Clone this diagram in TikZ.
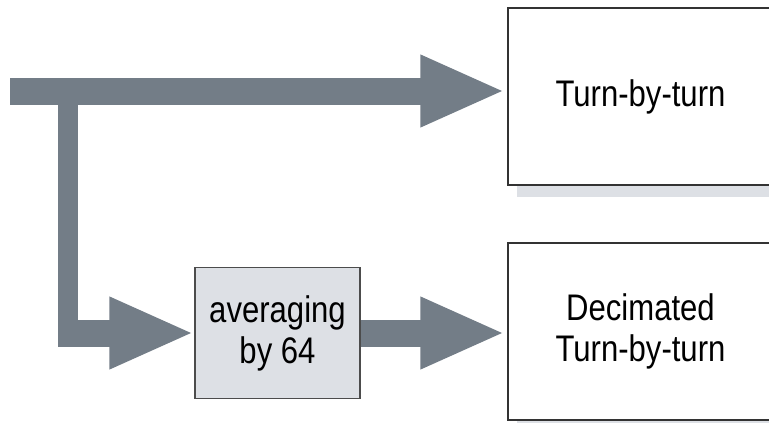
\documentclass[tikz,border=0pt]{standalone}
\usepackage{fontspec}
\setmainfont{Liberation Sans}[FakeStretch=0.84]
\usepackage{tikz}
\usetikzlibrary{arrows.meta, shadows, calc}
\definecolor{arrowgray}{RGB}{115,125,135}
\definecolor{boxgray}{RGB}{221,224,229}

\begin{document}
\begin{tikzpicture}[x=1pt, y=-1pt,
  every node/.style={font=\fontsize{37}{41}\selectfont},
  bigarrow/.style={draw=arrowgray, line width=27pt, -{Triangle[length=85pt, width=66pt]}},
  outbox/.style={draw=black!80, line width=1.2pt, fill=white, minimum width=265pt, minimum height=177pt, align=center,
    drop shadow={shadow xshift=9pt, shadow yshift=-12pt, fill=boxgray, opacity=1}},
  avgbox/.style={draw=black!70, line width=1.2pt, fill=boxgray, minimum width=165pt, minimum height=131pt, align=center}]
\useasboundingbox (0,0) rectangle (769,423);
\clip (0,0) rectangle (769,423);
\node[outbox] (tbt) at (640.5,96.5) {Turn-by-turn};
\node[outbox] (dec) at (640.5,331.5) {Decimated\\Turn-by-turn};
\node[avgbox] (avg) at (277.5,333) {averaging\\by 64};
\coordinate (in) at (10,91);
\coordinate (split) at (68,91);
\coordinate (corner) at ($(split |- avg.west)+(-10,0)$);
% branch down to the averaging
\draw[arrowgray, line width=20pt] (split) -- ($(split |- avg.west)+(0,13.5)$);
\draw[bigarrow] (corner) -- (avg.west);
\draw[bigarrow, shorten >=2pt] (in) -- (in -| tbt.west);
\draw[bigarrow, shorten >=2pt] (avg.east) -- (avg.east -| dec.west);
\end{tikzpicture}
\end{document}
